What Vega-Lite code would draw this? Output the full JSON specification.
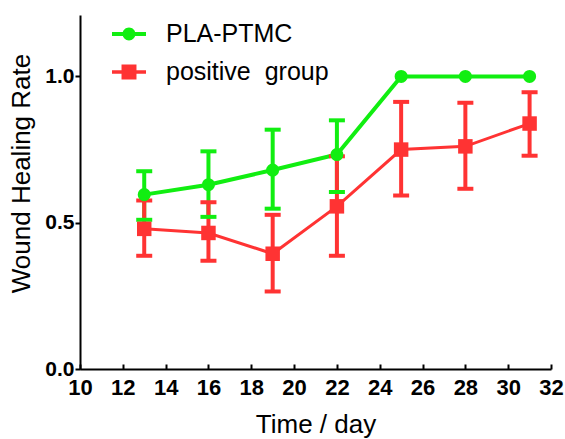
{
  "$schema": "https://vega.github.io/schema/vega-lite/v6.json",
  "width": 471,
  "height": 354,
  "autosize": {"type": "none"},
  "padding": {"left": 80, "top": 15, "right": 14, "bottom": 70},
  "background": "white",
  "config": {
    "view": {"stroke": null},
    "font": "Liberation Sans",
    "axis": {
      "grid": false,
      "domainColor": "black",
      "domainWidth": 2,
      "tickColor": "black",
      "tickWidth": 2,
      "labelColor": "black",
      "labelFont": "Liberation Sans",
      "labelFontSize": 21,
      "labelFontWeight": "bold",
      "titleColor": "black",
      "titleFont": "Liberation Sans",
      "titleFontSize": 26,
      "titleFontWeight": "normal"
    }
  },
  "data": {
    "values": [
      {"group": "PLA-PTMC", "day": 13, "rate": 0.596, "lo": 0.51, "hi": 0.676},
      {"group": "PLA-PTMC", "day": 16, "rate": 0.63, "lo": 0.52, "hi": 0.744},
      {"group": "PLA-PTMC", "day": 19, "rate": 0.68, "lo": 0.548, "hi": 0.818},
      {"group": "PLA-PTMC", "day": 22, "rate": 0.733, "lo": 0.605, "hi": 0.85},
      {"group": "PLA-PTMC", "day": 25, "rate": 1.0, "lo": null, "hi": null},
      {"group": "PLA-PTMC", "day": 28, "rate": 1.0, "lo": null, "hi": null},
      {"group": "PLA-PTMC", "day": 31, "rate": 1.0, "lo": null, "hi": null},
      {"group": "positive group", "day": 13, "rate": 0.479, "lo": 0.387, "hi": 0.576},
      {"group": "positive group", "day": 16, "rate": 0.465, "lo": 0.37, "hi": 0.57},
      {"group": "positive group", "day": 19, "rate": 0.394, "lo": 0.265, "hi": 0.527},
      {"group": "positive group", "day": 22, "rate": 0.556, "lo": 0.387, "hi": 0.727},
      {"group": "positive group", "day": 25, "rate": 0.75, "lo": 0.593, "hi": 0.913},
      {"group": "positive group", "day": 28, "rate": 0.761, "lo": 0.616, "hi": 0.91},
      {"group": "positive group", "day": 31, "rate": 0.839, "lo": 0.729, "hi": 0.946}
    ]
  },
  "encoding": {
    "x": {
      "field": "day",
      "type": "quantitative",
      "scale": {"domain": [10, 32], "nice": false, "zero": false},
      "axis": {
        "title": "Time / day",
        "values": [10, 12, 14, 16, 18, 20, 22, 24, 26, 28, 30, 32],
        "tickSize": -5,
        "labelFontSize": 22,
        "labelPadding": 13,
        "labelFlush": false,
        "labelOverlap": false,
        "titlePadding": 13
      }
    },
    "color": {
      "field": "group",
      "type": "nominal",
      "scale": {"domain": ["PLA-PTMC", "positive group"], "range": ["#11ee11", "#ff3333"]},
      "legend": {
        "title": null,
        "orient": "none",
        "legendX": 32,
        "legendY": 2,
        "labelFont": "Liberation Sans",
        "labelFontSize": 25,
        "labelColor": "black",
        "labelLimit": 400,
        "labelOffset": 20,
        "rowPadding": 8,
        "symbolSize": 1156,
        "symbolStrokeWidth": 0,
        "labelExpr": "datum.value == 'positive group' ? 'positive\u00a0 group' : datum.value",
        "encode": {
          "symbols": {
            "update": {
              "shape": {"signal": "datum.value == 'PLA-PTMC' ? 'M-1,-0.12H1V0.12H-1Z M0,-0.38A0.38,0.38 0 1,1 0,0.38A0.38,0.38 0 1,1 0,-0.38Z' : 'M-1,-0.1H1V0.1H-1Z M-0.44,-0.44H0.44V0.44H-0.44Z'"},
              "fill": {"signal": "datum.value == 'PLA-PTMC' ? '#11ee11' : '#ff3333'"},
              "stroke": {"value": "transparent"},
              "size": {"value": 1156},
              "opacity": {"value": 1}
            }
          }
        }
      }
    }
  },
  "layer": [
    {
      "mark": {"type": "line", "strokeWidth": 4},
      "transform": [{"filter": "datum.group == 'PLA-PTMC'"}],
      "encoding": {
        "y": {
          "field": "rate",
          "type": "quantitative",
          "scale": {"domain": [0, 1.21], "nice": false},
          "axis": {
            "title": "Wound Healing Rate",
            "values": [0, 0.5, 1.0],
            "format": ".1f",
            "tickSize": 5,
            "labelPadding": 1,
            "titlePadding": 10,
            "titleY": 158
          }
        }
      }
    },
    {
      "mark": {"type": "line", "strokeWidth": 3},
      "transform": [{"filter": "datum.group == 'positive group'"}],
      "encoding": {"y": {"field": "rate", "type": "quantitative"}}
    },
    {
      "mark": {"type": "rule", "strokeWidth": 4, "opacity": 1},
      "transform": [{"filter": "datum.lo != null"}],
      "encoding": {
        "y": {"field": "lo", "type": "quantitative"},
        "y2": {"field": "hi"}
      }
    },
    {
      "mark": {"type": "tick", "orient": "horizontal", "thickness": 4, "size": 16, "opacity": 1},
      "transform": [{"filter": "datum.lo != null"}],
      "encoding": {"y": {"field": "hi", "type": "quantitative"}}
    },
    {
      "mark": {"type": "tick", "orient": "horizontal", "thickness": 4, "size": 16, "opacity": 1},
      "transform": [{"filter": "datum.lo != null"}],
      "encoding": {"y": {"field": "lo", "type": "quantitative"}}
    },
    {
      "mark": {"type": "point", "filled": true, "opacity": 1, "size": 170, "shape": "circle"},
      "transform": [{"filter": "datum.group == 'PLA-PTMC'"}],
      "encoding": {"y": {"field": "rate", "type": "quantitative"}}
    },
    {
      "mark": {"type": "point", "filled": true, "opacity": 1, "size": 210, "shape": "square"},
      "transform": [{"filter": "datum.group == 'positive group'"}],
      "encoding": {"y": {"field": "rate", "type": "quantitative"}}
    }
  ]
}
